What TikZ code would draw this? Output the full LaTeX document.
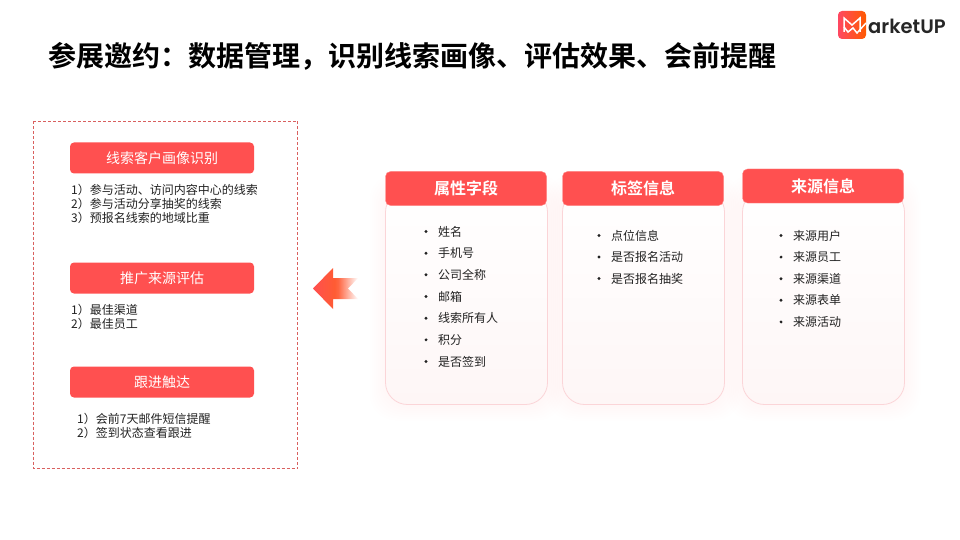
\documentclass[tikz,border=0pt]{standalone}
\usepackage{fontspec}
\setmainfont{Noto Sans CJK SC}[BoldFont={Noto Sans CJK SC Bold}]
\newfontfamily\logofont{Poppins}[BoldFont={Poppins SemiBold}]
\usetikzlibrary{calc}
\definecolor{hred}{HTML}{FF5050}
\definecolor{dashred}{HTML}{D9605F}
\definecolor{txt}{HTML}{222222}
\definecolor{cardedge}{HTML}{FBD5D8}
\definecolor{cardend}{HTML}{FEF6F6}
\pgfdeclarehorizontalshading{arrowshade}{100bp}{rgb(0bp)=(1,.31,.31);rgb(25bp)=(1,.31,.31);rgb(49bp)=(1,.36,.2);rgb(53bp)=(1,.40,.26);rgb(75bp)=(1,1,1);rgb(100bp)=(1,1,1)}
\tikzset{
  x=1pt,y=-1pt,
  title/.style={anchor=west,inner sep=0pt,font=\fontsize{28}{32}\selectfont\bfseries,text=black},
  sidehead/.style={fill=hred,rounded corners=4pt,minimum width=184pt,minimum height=31pt,inner sep=0pt,text=white,font=\fontsize{14}{16}\selectfont},
  cardhead/.style={fill=hred,draw=hred!70!white,line width=.4pt,rounded corners=5pt,inner sep=0pt,minimum width=161pt,minimum height=34pt,text=white,font=\fontsize{16}{18}\selectfont\bfseries},
  itemtxt/.style={anchor=west,inner sep=0pt,text=txt,font=\fontsize{12}{14}\selectfont},
  listtxt/.style={anchor=west,inner sep=0pt,text=txt,align=left,font=\fontsize{12}{14}\selectfont},
  bull/.style={circle,fill=txt,inner sep=0pt,minimum size=3.2pt},
}
\newcommand{\softcard}[4]{%
  \foreach \g in {16,14,...,2}{
    \fill[hred,opacity=.005,rounded corners=26pt] (#1-\g,#2-\g) rectangle (#3+\g,#4+\g);
  }
  \shade[rounded corners=22pt,top color=white,bottom color=cardend,draw=cardedge,line width=.8pt] (#1,#2) rectangle (#3,#4);
}
\begin{document}
\begin{tikzpicture}
\useasboundingbox (0,0) rectangle (960,540);
\fill[white] (0,0) rectangle (960,540);

\node[title] (ttl) at (48,56) {参展邀约：数据管理，识别线索画像、评估效果、会前提醒};

% logo
\shade[rounded corners=4pt,left color=hred!90!magenta,right color=orange!70!red] (838,11) rectangle (866,39);
\coordinate (m1) at (844,32);
\draw[white,line width=1.5pt,line join=miter] (m1) -- (844,18) -- (852,25) -- (860,18) -- (860,32);
\draw[white,line width=1.5pt] (844,27) -- (848,32) -- (853,28) -- (857,33) -- (866,23);
\node[anchor=west,inner sep=0pt,text=black!85] (logo) at (868,26.5) {\logofont\bfseries\fontsize{19.5}{20}\selectfont arketUP};

% left dashed panel
\draw[dashred,densely dashed,line width=.7pt] (33.5,121.5) rectangle (297.5,468.5);
\node[sidehead] (h1) at (162,158) {线索客户画像识别};
\node[listtxt] (l1) at (71,204) {1）参与活动、访问内容中心的线索\\2）参与活动分享抽奖的线索\\3）预报名线索的地域比重};
\node[sidehead] (h2) at (162,278) {推广来源评估};
\node[listtxt] (l2) at (71,317) {1）最佳渠道\\2）最佳员工};
\node[sidehead] (h3) at (162,382) {跟进触达};
\node[listtxt] (l3) at (77,425.5) {1）会前7天邮件短信提醒\\2）签到状态查看跟进};

% arrow
\shade[shading=arrowshade]
  (313,288.5) -- (333,268) -- (333,278) -- (358,278) -- (348,288.5) -- (358,299) -- (333,299) -- (333,309) -- cycle;

% cards
\softcard{385.5}{190}{547.5}{404.5}
\softcard{562.5}{190}{724.5}{404.5}
\softcard{742.5}{190}{904.5}{404.5}

\node[cardhead] (c1) at (466,188.5) {属性字段};
\node[cardhead] (c2) at (643,188.5) {标签信息};
\node[cardhead] (c3) at (823,186) {来源信息};

\foreach \t [count=\i from 0] in {姓名,手机号,公司全称,邮箱,线索所有人,积分,是否签到}{
  \node[bull] (a\i) at (426,231.5+21.67*\i) {};
  \node[itemtxt] (at\i) at (438,231.5+21.67*\i) {\t};
}
\foreach \t [count=\i from 0] in {点位信息,是否报名活动,是否报名抽奖}{
  \node[bull] (b\i) at (599,235.5+21.5*\i) {};
  \node[itemtxt] (bt\i) at (611,235.5+21.5*\i) {\t};
}
\foreach \t [count=\i from 0] in {来源用户,来源员工,来源渠道,来源表单,来源活动}{
  \node[bull] (d\i) at (781,235.5+21.6*\i) {};
  \node[itemtxt] (dt\i) at (793,235.5+21.6*\i) {\t};
}
\end{tikzpicture}
\end{document}
